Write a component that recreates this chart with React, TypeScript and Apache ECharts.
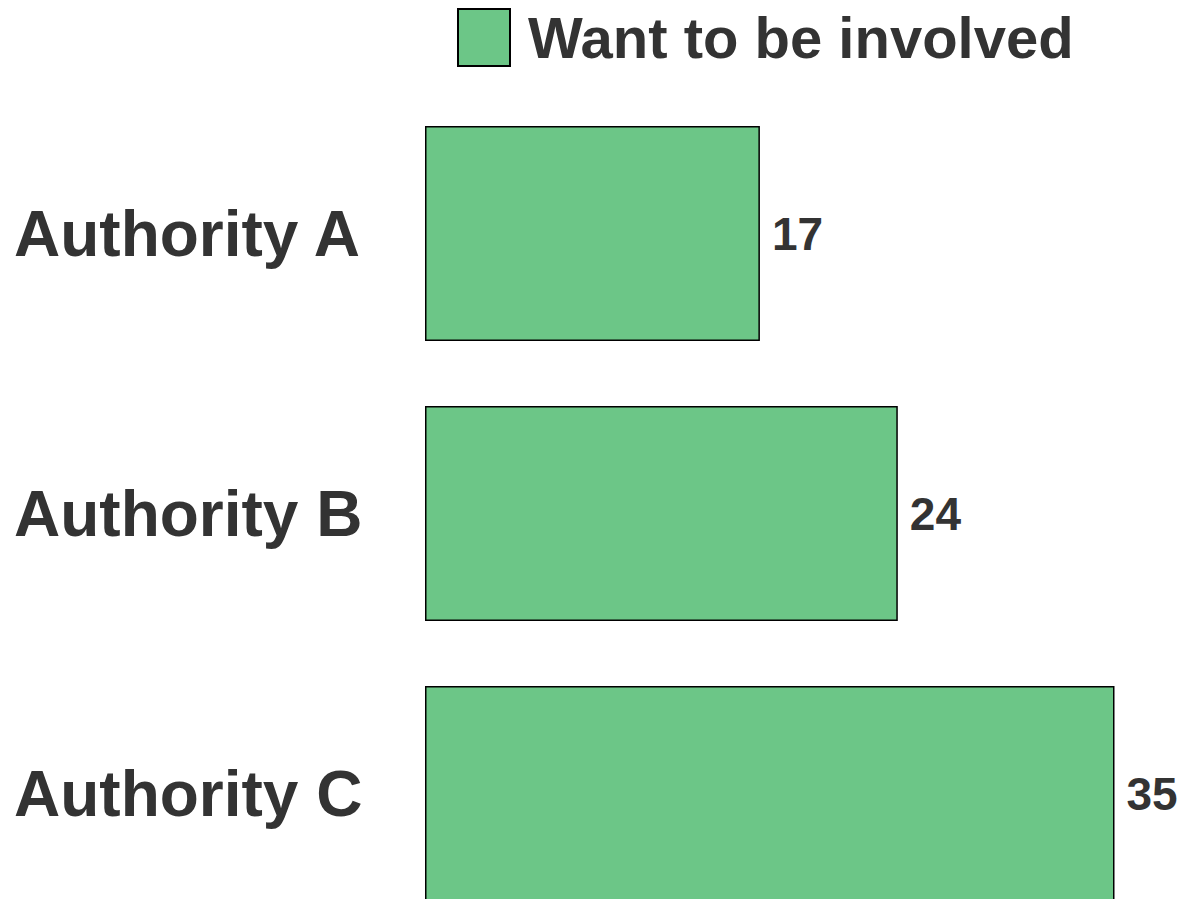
import React, { useEffect, useRef } from "react";
import * as echarts from "echarts";

const categories = ["Authority A", "Authority B", "Authority C"];
const seriesName = "Want to be involved";
const values = [17, 24, 35];

export default function App() {
  const ref = useRef<HTMLDivElement>(null);
  useEffect(() => {
    if (!ref.current) return;
    const chart = echarts.init(ref.current, null, { renderer: "svg" });
    chart.setOption({
      animation: false,
      textStyle: { fontFamily: "Liberation Sans" },
      legend: {
        data: [{ name: seriesName, icon: "rect" }],
        left: 457,
        top: 8,
        itemWidth: 52,
        itemHeight: 57,
        itemGap: 10,
        padding: 0,
        itemStyle: { borderWidth: 2 },
        textStyle: { fontSize: 58, fontWeight: "bold", color: "#333", padding: [14, 0, 0, 13] },
      },
      grid: { left: 425, top: 93.5, width: 788, height: 840, containLabel: false },
      xAxis: {
        type: "value",
        min: 0,
        max: 40,
        show: false,
      },
      yAxis: {
        type: "category",
        data: categories,
        inverse: true,
        axisLine: { show: false },
        axisTick: { show: false },
        splitLine: { show: false },
        axisLabel: {
          align: "left",
          margin: 411,
          fontSize: 64,
          fontWeight: "bold",
          color: "#333",
        },
      },
      series: [
        {
          name: seriesName,
          type: "bar",
          data: values,
          barWidth: 215,
          itemStyle: { color: "#6CC687", borderColor: "#000", borderWidth: 1.5 },
          label: {
            show: true,
            position: "right",
            distance: 12,
            fontSize: 46,
            fontWeight: "bold",
            color: "#333",
          },
        },
      ],
    });
    return () => chart.dispose();
  }, []);
  return (
    <div style={{ position: "absolute", left: 0, top: 0, width: 1180, height: 899, overflow: "hidden" }}>
      <div ref={ref} style={{ width: 1260, height: 960 }} />
    </div>
  );
}
